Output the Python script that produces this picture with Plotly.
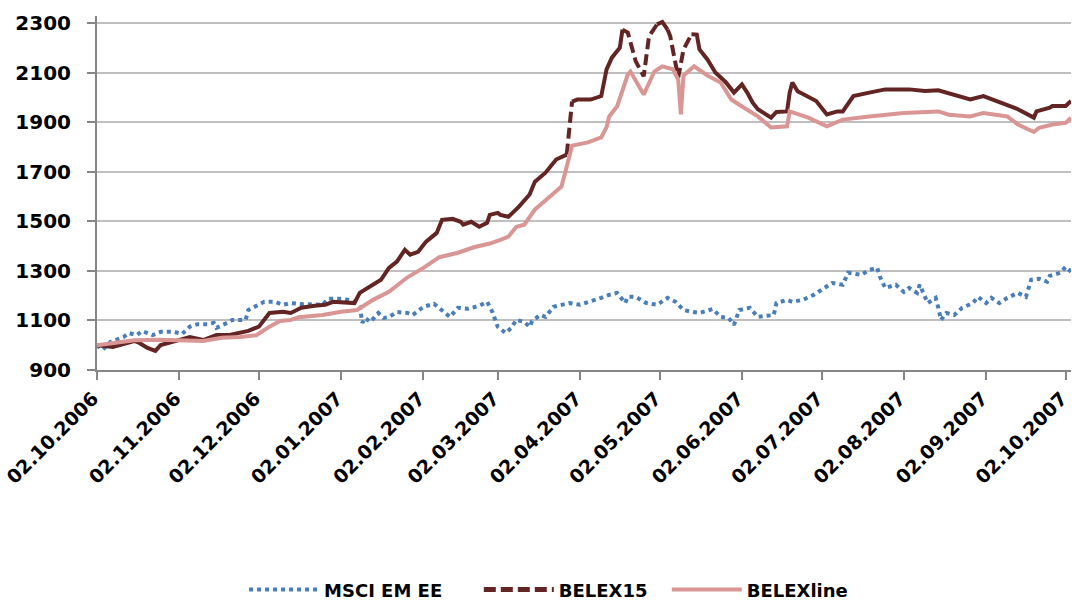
import plotly.graph_objects as go

# ---------------- data ----------------
msci_dates = ["2006-10-02","2006-10-04","2006-10-07","2006-10-12","2006-10-14","2006-10-17","2006-10-19",
    "2006-10-23","2006-10-26","2006-10-31","2006-11-03","2006-11-06","2006-11-09","2006-11-13","2006-11-15",
    "2006-11-16","2006-11-20","2006-11-22","2006-11-27","2006-11-28","2006-12-04","2006-12-08","2006-12-11",
    "2006-12-14","2006-12-18","2006-12-26","2006-12-28","2007-01-03","2007-01-07","2007-01-09","2007-01-10",
    "2007-01-11","2007-01-13","2007-01-16","2007-01-18","2007-01-20","2007-01-23","2007-01-27","2007-01-29",
    "2007-02-02","2007-02-06","2007-02-08","2007-02-12","2007-02-15","2007-02-19","2007-02-23","2007-02-26",
    "2007-02-28","2007-03-02","2007-03-05","2007-03-07","2007-03-09","2007-03-12","2007-03-14","2007-03-15",
    "2007-03-18","2007-03-20","2007-03-23","2007-03-27","2007-03-29","2007-04-02","2007-04-06","2007-04-10",
    "2007-04-13","2007-04-16","2007-04-19","2007-04-20","2007-04-23","2007-04-27","2007-05-01","2007-05-05",
    "2007-05-08","2007-05-11","2007-05-14","2007-05-17","2007-05-22","2007-05-25","2007-05-28","2007-05-30",
    "2007-06-01","2007-06-05","2007-06-08","2007-06-12","2007-06-14","2007-06-15","2007-06-19","2007-06-21",
    "2007-06-25","2007-06-29","2007-07-02","2007-07-06","2007-07-10","2007-07-12","2007-07-17","2007-07-20",
    "2007-07-23","2007-07-24","2007-07-26","2007-07-30","2007-08-02","2007-08-04","2007-08-07","2007-08-08",
    "2007-08-11","2007-08-14","2007-08-15","2007-08-16","2007-08-18","2007-08-21","2007-08-24","2007-08-28",
    "2007-08-30","2007-09-02","2007-09-04","2007-09-07","2007-09-10","2007-09-14","2007-09-17","2007-09-19",
    "2007-09-22","2007-09-25","2007-09-26","2007-09-30","2007-10-02","2007-10-04"]
msci_values = [1000,981,1013,1033,1049,1041,1057,
    1041,1054,1054,1045,1075,1085,1085,1090,
    1070,1090,1102,1102,1142,1175,1175,1163,
    1170,1166,1163,1187,1187,1175,1155,1090,
    1110,1094,1130,1110,1114,1134,1130,1122,
    1155,1167,1151,1114,1151,1147,1159,1175,
    1134,1074,1049,1069,1102,1094,1074,1098,
    1122,1114,1155,1163,1170,1163,1175,1191,
    1203,1211,1170,1195,1195,1170,1163,1191,
    1175,1142,1135,1130,1146,1114,1110,1082,
    1142,1151,1114,1122,1122,1170,1183,1175,
    1183,1203,1223,1251,1244,1292,1284,1304,
    1312,1276,1231,1244,1215,1231,1211,1244,
    1170,1191,1151,1102,1130,1122,1151,1170,
    1195,1170,1191,1170,1191,1211,1195,1264,
    1268,1256,1280,1292,1316,1296]

belex15_dates = ["2006-10-02","2006-10-08","2006-10-16","2006-10-18","2006-10-21","2006-10-24","2006-10-26",
    "2006-10-30","2006-11-06","2006-11-11","2006-11-16","2006-11-21","2006-11-28","2006-12-02","2006-12-06",
    "2006-12-11","2006-12-14","2006-12-17","2006-12-18","2006-12-23","2006-12-27","2006-12-30","2007-01-07",
    "2007-01-09","2007-01-13","2007-01-17","2007-01-20","2007-01-23","2007-01-26","2007-01-28","2007-01-31",
    "2007-02-03","2007-02-07","2007-02-09","2007-02-13","2007-02-16","2007-02-17","2007-02-20","2007-02-23",
    "2007-02-26","2007-02-27","2007-03-02","2007-03-03","2007-03-06","2007-03-10","2007-03-14","2007-03-16",
    "2007-03-20","2007-03-24","2007-03-28","2007-03-29","2007-03-30","2007-04-01","2007-04-06","2007-04-10",
    "2007-04-12","2007-04-14","2007-04-17","2007-04-18","2007-04-20","2007-04-21","2007-04-23","2007-04-26",
    "2007-04-28","2007-05-01","2007-05-03","2007-05-05","2007-05-06","2007-05-09","2007-05-11","2007-05-14",
    "2007-05-16","2007-05-17","2007-05-20","2007-05-23","2007-05-27","2007-05-30","2007-06-02","2007-06-04",
    "2007-06-06","2007-06-08","2007-06-13","2007-06-15","2007-06-19","2007-06-20","2007-06-21","2007-06-23",
    "2007-06-27","2007-06-30","2007-07-04","2007-07-08","2007-07-10","2007-07-14","2007-07-20","2007-07-26",
    "2007-08-04","2007-08-10","2007-08-15","2007-08-22","2007-08-27","2007-09-01","2007-09-06","2007-09-14",
    "2007-09-20","2007-09-21","2007-09-26","2007-09-27","2007-10-02","2007-10-04"]
belex15_values = [1000,993,1017,1009,989,977,1001,
    1013,1033,1021,1041,1041,1058,1075,1130,
    1135,1130,1146,1151,1159,1163,1175,1170,
    1211,1236,1264,1312,1337,1385,1365,1377,
    1418,1453,1506,1510,1498,1486,1498,1478,
    1494,1526,1534,1526,1518,1559,1608,1660,
    1696,1749,1769,1883,1983,1991,1991,2005,
    2113,2160,2200,2273,2261,2222,2145,2085,
    2246,2294,2304,2273,2246,2080,2193,2254,
    2253,2193,2153,2100,2060,2019,2052,2019,
    1979,1952,1918,1941,1943,2019,2060,2024,
    2000,1985,1931,1943,1943,2005,2019,2032,
    2032,2025,2028,2005,1991,2005,1985,1952,
    1918,1943,1958,1965,1965,1985]

belexline_dates = ["2006-10-02","2006-10-09","2006-10-16","2006-10-26","2006-11-02","2006-11-11","2006-11-18",
    "2006-11-25","2006-12-01","2006-12-06","2006-12-10","2006-12-14","2006-12-17","2006-12-26","2007-01-02",
    "2007-01-08","2007-01-14","2007-01-20","2007-01-27","2007-02-02","2007-02-08","2007-02-15","2007-02-21",
    "2007-02-27","2007-03-03","2007-03-06","2007-03-09","2007-03-12","2007-03-16","2007-03-22","2007-03-26",
    "2007-03-28","2007-03-30","2007-04-05","2007-04-10","2007-04-12","2007-04-13","2007-04-16","2007-04-18",
    "2007-04-20","2007-04-21","2007-04-26","2007-04-30","2007-05-03","2007-05-07","2007-05-09","2007-05-10",
    "2007-05-11","2007-05-15","2007-05-20","2007-05-25","2007-05-29","2007-06-01","2007-06-08","2007-06-13",
    "2007-06-19","2007-06-20","2007-06-27","2007-07-04","2007-07-10","2007-07-20","2007-08-02","2007-08-15",
    "2007-08-19","2007-08-27","2007-09-01","2007-09-10","2007-09-14","2007-09-20","2007-09-22","2007-09-27",
    "2007-10-02","2007-10-04"]
belexline_values = [1000,1010,1020,1022,1020,1017,1030,
    1033,1040,1075,1098,1102,1113,1122,1135,
    1142,1183,1215,1274,1312,1355,1373,1395,
    1410,1425,1438,1478,1486,1547,1600,1640,
    1721,1805,1818,1838,1880,1923,1964,2032,
    2092,2104,2011,2104,2125,2113,2072,1931,
    2088,2125,2088,2060,1991,1970,1923,1878,
    1883,1943,1918,1883,1910,1923,1937,1943,
    1930,1923,1937,1923,1890,1860,1877,1890,
    1897,1918]

tick_dates = ["2006-10-02","2006-11-02","2006-12-02","2007-01-02","2007-02-02","2007-03-02","2007-04-02",
              "2007-05-02","2007-06-02","2007-07-02","2007-08-02","2007-09-02","2007-10-02"]
tick_labels = ["02.10.2006","02.11.2006","02.12.2006","02.01.2007","02.02.2007","02.03.2007","02.04.2007",
               "02.05.2007","02.06.2007","02.07.2007","02.08.2007","02.09.2007","02.10.2007"]
y_ticks = [900, 1100, 1300, 1500, 1700, 1900, 2100, 2300]

# stretches of BELEX15 that the reference draws with visible dashes (long segments)
belex15_dashed_periods = [("2007-03-28", "2007-03-30"), ("2007-04-18", "2007-05-01"), ("2007-05-05", "2007-05-14")]

# ---------------- styling ----------------
BLUE = "#4A7EBB"
DARK = "#632523"
PINK = "#D99694"
AXIS = "#868686"
GRID = "#BFBFBF"
FONT = "DejaVu Sans"


def in_period(d, periods, strict):
    for a, b in periods:
        if (a < d < b) if strict else (a <= d <= b):
            return True
    return False


# solid part: drop points strictly inside dashed stretches
b15_solid = [None if in_period(d, belex15_dashed_periods, True) else v
             for d, v in zip(belex15_dates, belex15_values)]
# dashed part: keep only points within dashed stretches (inclusive ends)
b15_dash = [v if in_period(d, belex15_dashed_periods, False) else None
            for d, v in zip(belex15_dates, belex15_values)]

fig = go.Figure()

fig.add_trace(go.Scatter(x=msci_dates, y=msci_values, mode="lines", name="MSCI EM EE",
                         legend="legend", line=dict(color=BLUE, width=4, dash="dot")))
# legend entry for BELEX15 (dashed symbol as in the reference legend)
fig.add_trace(go.Scatter(x=[None], y=[None], mode="lines", name="BELEX15", legend="legend2",
                         line=dict(color=DARK, width=5, dash="12px,5px")))
fig.add_trace(go.Scatter(x=belex15_dates, y=b15_solid, mode="lines", name="BELEX15",
                         showlegend=False, connectgaps=False, line=dict(color=DARK, width=4)))
fig.add_trace(go.Scatter(x=belex15_dates, y=b15_dash, mode="lines", name="BELEX15",
                         showlegend=False, connectgaps=False,
                         line=dict(color=DARK, width=4, dash="11px,5px")))
fig.add_trace(go.Scatter(x=belexline_dates, y=belexline_values, mode="lines", name="BELEXline",
                         legend="legend3", line=dict(color=PINK, width=4)))

legend_style = dict(orientation="h", y=-0.621, yanchor="middle", xanchor="left",
                    font=dict(family=FONT, size=18, weight="bold", color="#000000"),
                    itemwidth=70, bgcolor="rgba(0,0,0,0)")

fig.update_layout(
    width=1072, height=601,
    margin=dict(l=97, r=1, t=16, b=231, autoexpand=False),
    paper_bgcolor="white", plot_bgcolor="white",
    font=dict(family=FONT, color="#000000"),
    showlegend=True,
    legend=dict(x=0.151, **legend_style),
    legend2=dict(x=0.392, **legend_style),
    legend3=dict(x=0.585, **legend_style),
)

fig.update_xaxes(
    type="date", range=["2006-10-02", "2007-10-04"],
    tickmode="array", tickvals=tick_dates, ticktext=tick_labels, tickangle=-45,
    tickfont=dict(family=FONT, size=19, weight="bold", color="#000000"),
    ticklabeloverflow="allow", ticklabelshift=-4,
    showgrid=False, showline=True, linecolor=AXIS, linewidth=2,
    ticks="outside", ticklen=8, tickcolor=AXIS, tickwidth=2,
    zeroline=False, automargin=False,
)
fig.update_yaxes(
    range=[900, 2328], tickmode="array", tickvals=y_ticks,
    tickfont=dict(family=FONT, size=20, weight="bold", color="#000000"),
    showgrid=True, gridcolor=GRID, gridwidth=1.5,
    showline=True, linecolor=AXIS, linewidth=2,
    ticks="outside", ticklen=8, tickcolor=AXIS, tickwidth=2,
    ticklabelstandoff=12, zeroline=False, automargin=False,
)

fig.write_html("out.html", config={"displayModeBar": False})

# remove the browser's default page margin so the figure fills the window exactly
with open("out.html", "r", encoding="utf-8") as f:
    html = f.read()
html = html.replace("<body>", '<body style="margin:0;padding:0;overflow:hidden;">', 1)
with open("out.html", "w", encoding="utf-8") as f:
    f.write(html)
